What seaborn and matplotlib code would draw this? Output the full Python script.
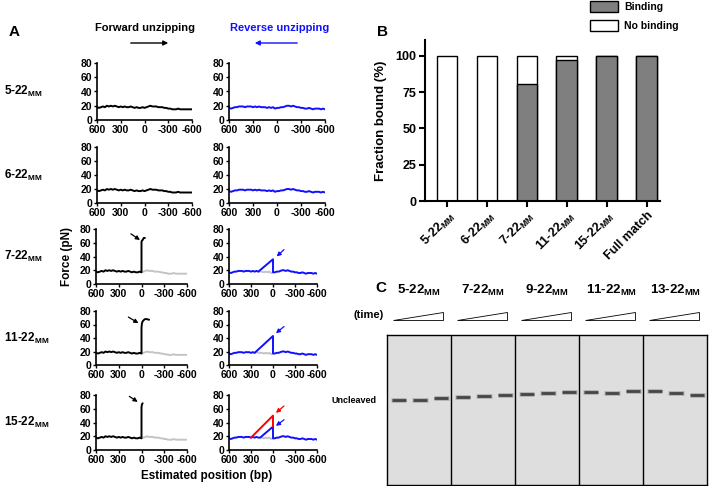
import matplotlib.pyplot as plt
import seaborn as sns
from matplotlib.patches import Patch, Polygon, FancyArrowPatch
from matplotlib.transforms import blended_transform_factory

sns.set_theme(style="ticks", rc={"axes.edgecolor": "black", "xtick.color": "black",
                                 "ytick.color": "black", "text.color": "black",
                                 "axes.labelcolor": "black"})
plt.rcParams['font.family'] = ['Liberation Sans', 'DejaVu Sans']
plt.rcParams['font.weight'] = 'bold'
plt.rcParams['axes.labelweight'] = 'bold'
plt.rcParams['axes.unicode_minus'] = False
plt.rcParams['mathtext.fontset'] = 'custom'
plt.rcParams['mathtext.bf'] = 'Liberation Sans:bold'
plt.rcParams['mathtext.rm'] = 'Liberation Sans:bold'

# %% data -------------------------------------------------------------
# Panel A: force traces, sampled every 25 bp from 600 to -600
position_bp = list(range(600, -601, -25))
fwd_force = [18, 17, 18, 19, 18, 20, 19, 20, 19, 20, 19, 18, 19, 18, 19, 18, 18, 19, 18, 17,
             18, 17, 17, 18, 17,
             18, 19, 20, 19, 19, 19, 18, 18, 18, 17, 17, 16, 16, 15, 15, 15, 16, 15, 15, 15,
             15, 15, 15, 15]
rev_force = [17, 16, 17, 18, 18, 19, 19, 19, 18, 19, 19, 19, 18, 19, 18, 19, 18, 18, 18, 17,
             18, 17, 18, 16, 17,
             17, 18, 18, 19, 20, 20, 19, 20, 19, 18, 18, 17, 17, 16, 16, 17, 16, 15, 16, 16,
             16, 15, 16, 15]

row_names = ['5-22', '6-22', '7-22', '11-22', '15-22']
# forward unzipping: jump at the bound site (position, force)
fwd_jump_bp = [None, None, [0, -5, -15, -30, -45],
               [0, -5, -12, -25, -45, -70, -100], [0, -5, -15]]
fwd_jump_force = [None, None, [61, 63, 64, 67, 67],
                  [55, 61, 64, 66, 68, 68, 67], [62, 66, 68]]
# reverse unzipping: linear force ramp before the bound site
rev_ramp_start_bp = [None, None, 200, 250, 175]
rev_ramp_peak = [None, None, 36, 43, 34]
red_ramp_start_bp = 300
red_ramp_peak = 50
red_ramp_end = 34

# Panel B
samples = ['5-22', '6-22', '7-22', '11-22', '15-22', 'Full match']
binding = [0, 0, 81, 97, 100, 100]
no_binding = [100, 100, 19, 3, 0, 0]

# Panel C: gel band migration (px below top of gel), 3 time points per construct
gel_groups = ['5-22', '7-22', '9-22', '11-22', '13-22']
band_depth = [[65, 65, 63], [62, 61, 60], [59, 58, 57], [57, 58, 56], [56, 58, 60]]

# %% layout helpers ---------------------------------------------------
W, H = 709, 486
fig = plt.figure(figsize=(W / 100, H / 100), dpi=100)


def px_axes(l, t, r, b):
    return fig.add_axes([l / W, 1 - b / H, (r - l) / W, (b - t) / H])


def px_text(x, y, s, **kw):
    fig.text(x / W, 1 - y / H, s, **kw)


def mm(name):
    return name + r'$_{\mathbf{MM}}$'


def style_trace_ax(ax):
    ax.set_xlim(600, -600)
    ax.set_ylim(0, 80)
    ax.set_xticks([600, 300, 0, -300, -600])
    ax.set_yticks([0, 20, 40, 60, 80])
    sns.despine(ax=ax)
    ax.tick_params(labelsize=7.5, length=2.5, width=1, pad=1)
    for s in ['left', 'bottom']:
        ax.spines[s].set_linewidth(1.2)
    ax.set_xlabel('')
    ax.set_ylabel('')


def trace(ax, xs, ys, color, lw=1.4):
    sns.lineplot(x=xs, y=ys, sort=False, estimator=None, color=color, lw=lw, ax=ax)


def arrow(ax, tail, head, color):
    ax.annotate('', xy=head, xytext=tail,
                arrowprops=dict(arrowstyle='-|>', color=color, lw=0.9, mutation_scale=6,
                                shrinkA=0, shrinkB=0))


BLUE = '#1010ff'
GRAY = '#c4c4c4'

# %% Panel A ----------------------------------------------------------
row_y = [(63, 120), (147, 203), (229, 284), (311, 365), (395, 450)]
left_x = [(97, 192), (97, 192), (96, 187), (96, 187), (96, 187)]
right_x = [(229, 325), (229, 325), (229, 317), (229, 317), (229, 317)]
fwd_arrows = [None, None, ((140, 73), (20, 64)), ((173, 71), (40, 62)), ((160, 78), (50, 70))]
rev_arrows = [None, None, ((-150, 50), (-50, 40)), ((-150, 57), (-40, 47)), ((-150, 44), (-40, 35))]

zero = position_bp.index(0)
for i, name in enumerate(row_names):
    t, b = row_y[i]
    axL = px_axes(left_x[i][0], t, left_x[i][1], b)
    axR = px_axes(right_x[i][0], t, right_x[i][1], b)

    if fwd_jump_bp[i] is None:
        trace(axL, position_bp, fwd_force, 'black')
        trace(axR, position_bp, rev_force, BLUE)
    else:
        # forward: gray continuation, black up to the roadblock
        trace(axL, position_bp[zero:], fwd_force[zero:], GRAY)
        trace(axL, position_bp[:zero + 1] + fwd_jump_bp[i],
              fwd_force[:zero + 1] + fwd_jump_force[i], 'black')
        arrow(axL, *fwd_arrows[i], 'black')

        # reverse: gray baseline under ramp, blue ramp and drop
        s = position_bp.index(rev_ramp_start_bp[i])
        trace(axR, position_bp[s:zero + 1], rev_force[s:zero + 1], GRAY)
        xs = position_bp[:s + 1] + [0] + position_bp[zero:]
        ys = rev_force[:s + 1] + [rev_ramp_peak[i]] + rev_force[zero:]
        trace(axR, xs, ys, BLUE)
        if name == '15-22':
            r = position_bp.index(red_ramp_start_bp)
            trace(axR, [red_ramp_start_bp, 0, 0],
                  [rev_force[r], red_ramp_peak, red_ramp_end], 'red')
            arrow(axR, (-150, 64), (-40, 54), 'red')
        arrow(axR, *rev_arrows[i], BLUE)

    style_trace_ax(axL)
    style_trace_ax(axR)
    px_text(4, (t + b) / 2, mm(name), fontsize=8.5, fontweight='bold', va='center', ha='left')

px_text(14, 32, 'A', fontsize=11, fontweight='bold', ha='center', va='center')
px_text(145, 28, 'Forward unzipping', fontsize=8, fontweight='bold', ha='center', va='center')
px_text(280, 28, 'Reverse unzipping', fontsize=8, fontweight='bold', ha='center', va='center',
        color=BLUE)
fig.patches.append(FancyArrowPatch(
    (128 / W, 1 - 43 / H), (171 / W, 1 - 43 / H), transform=fig.transFigure,
    arrowstyle='-|>', mutation_scale=7, lw=1, color='black'))
fig.patches.append(FancyArrowPatch(
    (300 / W, 1 - 43 / H), (252 / W, 1 - 43 / H), transform=fig.transFigure,
    arrowstyle='-|>', mutation_scale=7, lw=1, color=BLUE))
px_text(67, 256, 'Force (pN)', fontsize=8.5, fontweight='bold', rotation=90, ha='center', va='center')
px_text(207, 476, 'Estimated position (bp)', fontsize=8.5, fontweight='bold', ha='center', va='center')

# %% Panel B ----------------------------------------------------------
axB = px_axes(425, 40, 660, 201)
total = [b + n for b, n in zip(binding, no_binding)]
sns.barplot(x=samples, y=total, color='white', edgecolor='black', linewidth=1,
            width=0.52, saturation=1, ax=axB)
sns.barplot(x=samples, y=binding, color='#7f7f7f', edgecolor='black', linewidth=1,
            width=0.52, saturation=1, ax=axB)
axB.set_ylim(0, 111)
axB.set_xlim(-0.55, 5.33)
axB.set_yticks([0, 25, 50, 75, 100])
axB.set_xticks(range(len(samples)))
axB.set_xticklabels([mm(s) if s != 'Full match' else s for s in samples],
                    rotation=45, ha='right', rotation_mode='anchor')
axB.set_ylabel('Fraction bound (%)', fontsize=9.5, fontweight='bold', labelpad=6)
axB.set_xlabel('')
sns.despine(ax=axB)
for s in ['left', 'bottom']:
    axB.spines[s].set_linewidth(1.5)
axB.tick_params(axis='y', labelsize=9, length=4, width=1.5, pad=2)
axB.tick_params(axis='x', labelsize=9, length=4, width=1.5, pad=2)
axB.legend(handles=[Patch(fc='#7f7f7f', ec='black', lw=1, label='Binding'),
                    Patch(fc='white', ec='black', lw=1, label='No binding')],
           loc='upper left', bbox_to_anchor=(590 / W, 1 - 1 / H), bbox_transform=fig.transFigure,
           frameon=False, fontsize=7.5, handlelength=2.7, handleheight=1.3, handletextpad=0.6,
           labelspacing=0.7, borderpad=0, borderaxespad=0)
px_text(382, 32, 'B', fontsize=11, fontweight='bold', ha='center', va='center')

# %% Panel C ----------------------------------------------------------
axC = px_axes(387, 335, 707, 485)
axC.set_facecolor('#dedede')
axC.set_xlim(0, 15)
axC.set_ylim(150, 0)
axC.set_xticks([])
axC.set_yticks([])
for s in axC.spines.values():
    s.set_visible(True)
    s.set_linewidth(1)
for g in range(1, len(gel_groups)):
    axC.axvline(g * 3, color='black', lw=1)
for g, depths in enumerate(band_depth):
    for k, d in enumerate(depths):
        c = g * 3 + k + 0.55
        axC.plot([c - 0.36, c + 0.36], [d, d], color='#9a9a9a', lw=3.6, alpha=0.6,
                 solid_capstyle='butt')
        axC.plot([c - 0.33, c + 0.33], [d, d], color='#454545', lw=2.0,
                 solid_capstyle='butt')

blend = blended_transform_factory(axC.transData, axC.transAxes)
for g, name in enumerate(gel_groups):
    axC.text(g * 3 + 1.5, 1.30, mm(name), transform=blend, ha='center', va='center',
             fontsize=9.5, fontweight='bold')
    axC.add_patch(Polygon([(g * 3 + 0.28, 1.10), (g * 3 + 2.62, 1.10), (g * 3 + 2.62, 1.155)],
                          closed=True, fc='white', ec='black', lw=0.6,
                          transform=blend, clip_on=False))
px_text(381, 288, 'C', fontsize=11, fontweight='bold', ha='center', va='center')
px_text(384, 315, '(time)', fontsize=8, fontweight='bold', ha='right', va='center')
px_text(377, 400, 'Uncleaved', fontsize=6.5, fontweight='bold', ha='right', va='center')

fig.savefig('out.png', dpi=100)
